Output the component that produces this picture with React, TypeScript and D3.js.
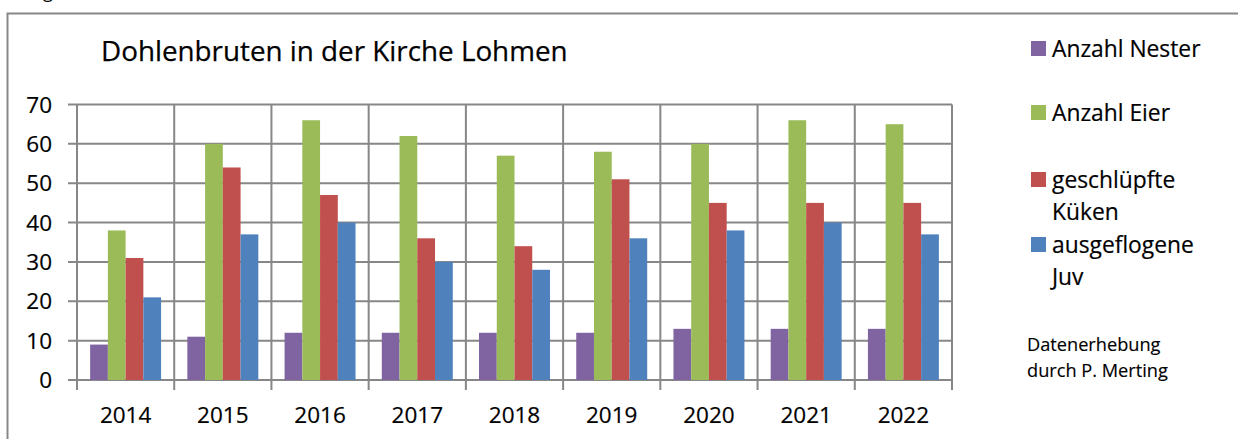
import React from "react";
import * as d3 from "d3";

const years = ["2014", "2015", "2016", "2017", "2018", "2019", "2020", "2021", "2022"];
const nester = [9, 11, 12, 12, 12, 12, 13, 13, 13];
const eier = [38, 60, 66, 62, 57, 58, 60, 66, 65];
const kueken = [31, 54, 47, 36, 34, 51, 45, 45, 45];
const juv = [21, 37, 40, 30, 28, 36, 38, 40, 37];
const seriesNames = [["Anzahl Nester"], ["Anzahl Eier"], ["geschlüpfte", "Küken"], ["ausgeflogene", "Juv"]];
const seriesColors = ["#8064A2", "#9BBB59", "#C0504D", "#4F81BD"];
const yTicks = [0, 10, 20, 30, 40, 50, 60, 70];
const title = "Dohlenbruten in der Kirche Lohmen";
const note = ["Datenerhebung", "durch P. Merting"];

const FONT = "'Open Sans', sans-serif";
const GRID = "#878787";

export default function App() {
  const W = 1238, H = 439;
  const left = 77, right = 952, top = 104.5, bottom = 380;
  const allSeries = [nester, eier, kueken, juv];
  const x = d3.scaleBand().domain(years).range([left, right]).paddingInner(0).paddingOuter(0);
  const y = d3.scaleLinear().domain([0, 70]).range([bottom, top]);
  const inner = d3.scaleBand().domain(["0", "1", "2", "3"]).range([0, x.bandwidth()]).paddingOuter(0.74).paddingInner(0);
  const boundaries = d3.range(years.length + 1).map((i) => left + i * x.bandwidth());
  const legendY = [48.5, 112.5, 179.5, 244.5];

  return (
    <svg width={W} height={H} style={{ position: "absolute", left: 0, top: 0, background: "#fff" }} fontFamily={FONT}>
      <rect x={0} y={0} width={W} height={H} fill="#fff" />
      <text x={43} y={-2} fontSize={18} fill="#000">g</text>
      <path d={`M7.5,${H} V13.5 H${W}`} fill="none" stroke={GRID} strokeWidth={2} />
      <text x={101} y={61} fontSize={27.8} fill="#000" stroke="#000" strokeWidth={0.25}>{title}</text>
      {yTicks.map((t) => (
        <line key={"h" + t} x1={68} x2={right} y1={y(t)} y2={y(t)} stroke={GRID} strokeWidth={2} />
      ))}
      {boundaries.map((b, i) => (
        <line key={"v" + i} x1={b} x2={b} y1={top} y2={390} stroke={GRID} strokeWidth={2} />
      ))}
      {years.map((yr, i) => (
        <g key={yr} transform={`translate(${x(yr)},0)`}>
          {allSeries.map((s, j) => (
            <rect key={j} x={inner(String(j))} width={inner.bandwidth()} y={y(s[i])} height={y(0) - y(s[i])} fill={seriesColors[j]} />
          ))}
        </g>
      ))}
      {yTicks.map((t) => (
        <text key={"yl" + t} x={52} y={y(t)} dy="0.36em" textAnchor="end" fontSize={22.5} fill="#000" stroke="#000" strokeWidth={0.2}>{t}</text>
      ))}
      {years.map((yr) => (
        <text key={"xl" + yr} x={(x(yr) as number) + x.bandwidth() / 2} y={423} textAnchor="middle" fontSize={22.5} fill="#000" stroke="#000" strokeWidth={0.2}>{yr}</text>
      ))}
      {seriesNames.map((lines, j) => (
        <g key={"lg" + j}>
          <rect x={1031} y={legendY[j] - 7.5} width={15} height={15} fill={seriesColors[j]} />
          {lines.map((ln, k) => (
            <text key={k} x={1052} y={legendY[j] + 8 + k * 32} fontSize={22.8} fill="#000" stroke="#000" strokeWidth={0.2}>{ln}</text>
          ))}
        </g>
      ))}
      {note.map((ln, k) => (
        <text key={"n" + k} x={1027} y={351 + k * 26} fontSize={18.2} fill="#000" stroke="#000" strokeWidth={0.15}>{ln}</text>
      ))}
    </svg>
  );
}
